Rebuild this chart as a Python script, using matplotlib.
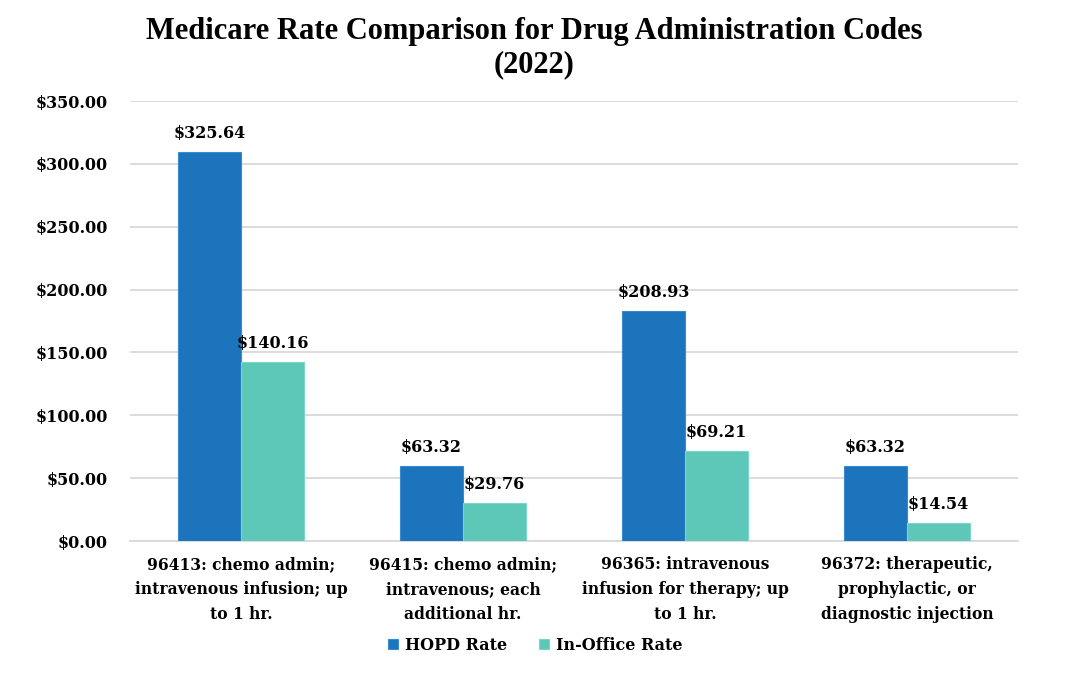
import matplotlib
matplotlib.use("Agg")
import matplotlib.pyplot as plt
import numpy as np

categories = [
    "96413: chemo admin;\nintravenous infusion; up\nto 1 hr.",
    "96415: chemo admin;\nintravenous; each\nadditional hr.",
    "96365: intravenous\ninfusion for therapy; up\nto 1 hr.",
    "96372: therapeutic,\nprophylactic, or\ndiagnostic injection",
]
series_names = ["HOPD Rate", "In-Office Rate"]
# bar heights as drawn in the picture
hopd_bars = [309.5, 59.7, 183.0, 59.7]
office_bars = [142.4, 30.2, 71.6, 14.3]
# printed data labels
hopd_labels = ["$325.64", "$63.32", "$208.93", "$63.32"]
office_labels = ["$140.16", "$29.76", "$69.21", "$14.54"]
yticks = [0, 50, 100, 150, 200, 250, 300, 350]

blue = "#1c75bc"
teal = "#5dc7b8"
font = "DejaVu Serif"

fig = plt.figure(figsize=(10.68, 6.75), dpi=100)
ax = fig.add_axes([130/1068, 1-541/675, 888/1068, 440/675])

x = np.arange(len(categories))
w = 0.284
b1 = ax.bar(x - w/2, hopd_bars, w, color=blue, edgecolor="#3a8ad0", linewidth=0.8, label=series_names[0], zorder=3)
b2 = ax.bar(x + w/2, office_bars, w, color=teal, edgecolor="#7ad6c9", linewidth=0.8, label=series_names[1], zorder=3)

for rects, labs in ((b1, hopd_labels), (b2, office_labels)):
    for r, lab in zip(rects, labs):
        ax.annotate(lab, (r.get_x() + r.get_width()/2, r.get_height()),
                    xytext=(0, 7), textcoords="offset points", ha="center", va="bottom",
                    fontsize=11.5, fontweight="bold", family=font, color="black")

ax.set_xlim(-0.5, 3.5)
ax.set_ylim(0, 350)
ax.set_yticks(yticks)
ax.set_yticklabels([f"${v:,.2f}" for v in yticks], fontsize=11.5, fontweight="bold", family=font)
ax.set_xticks(x)
ax.set_xticklabels(categories, fontsize=11.2, fontweight="bold", family=font, linespacing=1.6)
ax.tick_params(axis="both", length=0)
ax.tick_params(axis="y", pad=16)
ax.tick_params(axis="x", pad=11)
ax.grid(axis="y", color="#d9d9d9", linewidth=1.3, zorder=0)
for s in ["top", "right", "left"]:
    ax.spines[s].set_visible(False)
ax.spines["bottom"].set_color("#d9d9d9")
ax.spines["bottom"].set_linewidth(1.3)

fig.text(0.5, 1-48/675, "Medicare Rate Comparison for Drug Administration Codes\n(2022)",
         ha="center", va="center", fontsize=22, fontweight="bold", family="Liberation Serif",
         linespacing=1.22)

leg = fig.legend(handles=[b1, b2], labels=series_names, loc="center", bbox_to_anchor=(535/1068, 1-645/675),
                 ncol=2, frameon=False, prop={"family": font, "weight": "bold", "size": 11.5},
                 handlelength=0.65, handleheight=0.65, handletextpad=0.4, columnspacing=2.0)

fig.savefig("out.png", dpi=100)
